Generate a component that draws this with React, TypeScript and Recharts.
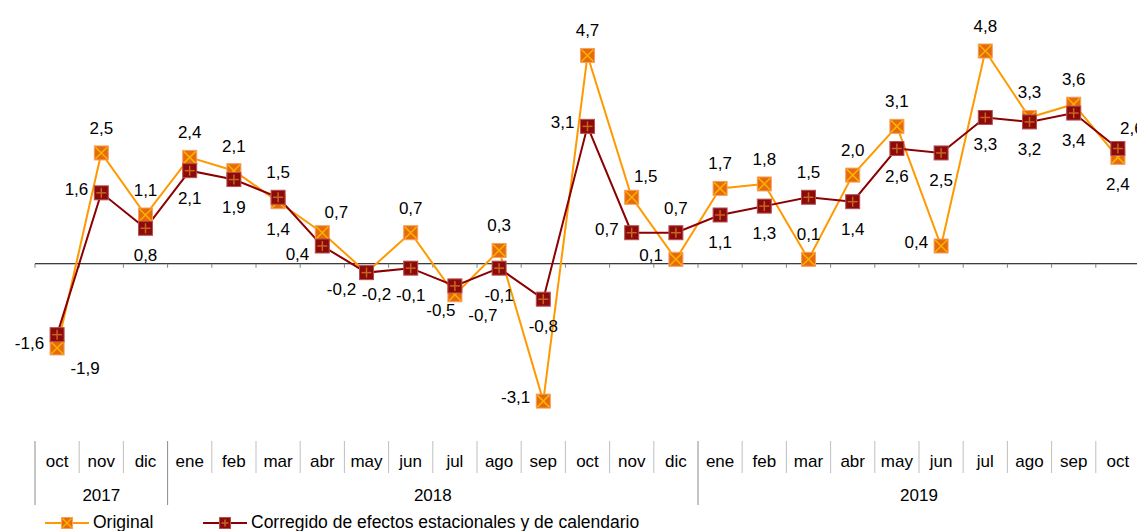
import React from 'react';
import { LineChart, Line, XAxis, YAxis, ReferenceLine, LabelList } from 'recharts';

const months = ['oct', 'nov', 'dic', 'ene', 'feb', 'mar', 'abr', 'may', 'jun', 'jul', 'ago', 'sep', 'oct', 'nov', 'dic', 'ene', 'feb', 'mar', 'abr', 'may', 'jun', 'jul', 'ago', 'sep', 'oct'];
const original = [-1.9, 2.5, 1.1, 2.4, 2.1, 1.4, 0.7, -0.2, 0.7, -0.7, 0.3, -3.1, 4.7, 1.5, 0.1, 1.7, 1.8, 0.1, 2.0, 3.1, 0.4, 4.8, 3.3, 3.6, 2.4];
const corregido = [-1.6, 1.6, 0.8, 2.1, 1.9, 1.5, 0.4, -0.2, -0.1, -0.5, -0.1, -0.8, 3.1, 0.7, 0.7, 1.1, 1.3, 1.5, 1.4, 2.6, 2.5, 3.3, 3.2, 3.4, 2.6];
const years = ['2017', '2018', '2019'];
const yearStart = [0, 3, 15];
const yearLength = [3, 12, 10];

// where each data label sits around its marker
const origPlaces = ['bottomRight', 'top', 'top', 'top', 'top', 'bottom', 'topRight', 'bottomLeft', 'top', 'bottomRight', 'top', 'left', 'top', 'topRight', 'left', 'top', 'top', 'top', 'top', 'top', 'left', 'top', 'top', 'top', 'bottom'];
const corrPlaces = ['leftLow', 'left', 'bottom', 'bottom', 'bottom', 'top', 'leftLow', 'bottomNear', 'bottom', 'bottomLeftNear', 'bottom', 'bottom', 'left', 'left', 'top', 'bottom', 'bottom', 'top', 'bottom', 'bottom', 'bottom', 'bottom', 'bottom', 'bottom', 'topRight'];

const data = months.map((m, i) => ({ i, month: m, original: original[i], corregido: corregido[i] }));

const font = '"Liberation Sans", Arial, sans-serif';
const fs = 17;
const orange = '#FF9900';
const darkRed = '#8B0000';
const W = 1145;
const H = 505;
const margin = { top: 20, right: 5, bottom: 0, left: 35 };
const band = (W - margin.left - margin.right) / months.length;

const fmt = (v: number) => v.toFixed(1).replace('.', ',');

const OrigMarker = ({ cx, cy, s = 7 }: any) => (
	<g>
		<rect x={cx - s} y={cy - s} width={s * 2} height={s * 2} fill="#E46C0A" stroke="#F7A060" strokeWidth={1} />
		<line x1={cx - s + 1} y1={cy - s + 1} x2={cx + s - 1} y2={cy + s - 1} stroke="#FFB000" strokeWidth={1.5} />
		<line x1={cx - s + 1} y1={cy + s - 1} x2={cx + s - 1} y2={cy - s + 1} stroke="#FFB000" strokeWidth={1.5} />
	</g>
);

const CorrMarker = ({ cx, cy, s = 7 }: any) => (
	<g>
		<rect x={cx - s} y={cy - s} width={s * 2} height={s * 2} fill="#8B0A0A" stroke="#B85050" strokeWidth={1} />
		<line x1={cx} y1={cy - s + 2} x2={cx} y2={cy + s - 2} stroke="#C8641E" strokeWidth={1.5} />
		<line x1={cx - s + 2} y1={cy} x2={cx + s - 2} y2={cy} stroke="#C8641E" strokeWidth={1.5} />
	</g>
);

const offsets: Record<string, [number, number, string]> = {
	top: [0, -25, 'middle'],
	bottom: [0, 27, 'middle'],
	bottomNear: [10, 21, 'middle'],
	left: [-13, -4, 'end'],
	leftLow: [-13, 8, 'end'],
	bottomLeft: [-25, 16, 'middle'],
	bottomLeftNear: [-14, 24, 'middle'],
	bottomRight: [28, 20, 'middle'],
	topRight: [14, -21, 'middle']
};

const PointLabel = ({ x, y, value, index, places }: any) => {
	const [dx, dy, anchor] = offsets[places[index]] || offsets.top;
	return (
		<text x={x + dx} y={y + dy + 6} textAnchor={anchor} fontSize={fs} fontFamily={font} fill="#000">
			{fmt(value)}
		</text>
	);
};

const MonthTick = ({ x, y, payload }: any) => {
	const i = payload.value;
	const isYearStart = yearStart.includes(i);
	return (
		<g>
			<line x1={x - band / 2} y1={y} x2={x - band / 2} y2={y + 32} stroke={isYearStart ? '#8C8C8C' : '#BFBFBF'} strokeWidth={1} />
			<text x={x} y={y + 26} textAnchor="middle" fontSize={fs} fontFamily={font} fill="#000">{months[i]}</text>
		</g>
	);
};

const YearTick = ({ x, y, payload }: any) => {
	const k = yearStart.findIndex((s, j) => s + (yearLength[j] - 1) / 2 === payload.value);
	if (k < 0) return null;
	const left = x - (yearLength[k] / 2) * band;
	return (
		<g>
			<line x1={left} y1={y} x2={left} y2={y + 32} stroke="#8C8C8C" strokeWidth={1} />
			<text x={x} y={y + 28} textAnchor="middle" fontSize={fs} fontFamily={font} fill="#000">{years[k]}</text>
		</g>
	);
};

const ZeroLine = ({ x1, x2, y1 }: any) => {
	const step = (x2 - x1) / months.length;
	return (
		<g>
			<line x1={x1} y1={y1} x2={x2} y2={y1} stroke="#000" strokeWidth={1} />
			{months.map((_, k) => (
				<line key={k} x1={x1 + k * step} y1={y1} x2={x1 + k * step} y2={y1 + 4} stroke="#808080" strokeWidth={1} />
			))}
		</g>
	);
};

const LegendItem = ({ color, marker, text, left }: any) => (
	<div style={{ position: 'absolute', left, top: 0, display: 'flex', alignItems: 'center', whiteSpace: 'nowrap' }}>
		<svg width={44} height={14}>
			<line x1={0} y1={7} x2={44} y2={7} stroke={color} strokeWidth={2} />
			{marker === 'x' ? <OrigMarker cx={22} cy={7} s={5.5} /> : <CorrMarker cx={22} cy={7} s={5.5} />}
		</svg>
		<span style={{ marginLeft: 4 }}>{text}</span>
	</div>
);

export default function App() {
	const monthTicks = months.map((_, i) => i);
	const yearTicks = yearStart.map((s, j) => s + (yearLength[j] - 1) / 2);
	return (
		<div style={{ position: 'absolute', left: 0, top: 0, width: 1137, height: 531, overflow: 'hidden', background: '#fff' }}>
			<LineChart width={W} height={H} data={data} margin={margin}>
				<XAxis xAxisId="m" type="number" dataKey="i" domain={[-0.5, 24.5]} ticks={monthTicks} interval={0}
					axisLine={false} tickLine={false} tickSize={0} tickMargin={0} height={32} tick={<MonthTick />} />
				<XAxis xAxisId="y" type="number" dataKey="i" domain={[-0.5, 24.5]} ticks={yearTicks} interval={0}
					axisLine={false} tickLine={false} tickSize={0} tickMargin={0} height={32} tick={<YearTick />} />
				<YAxis hide domain={[-4, 5.5]} />
				<ReferenceLine xAxisId="m" y={0} shape={<ZeroLine />} />
				<Line xAxisId="m" type="linear" dataKey="original" stroke={orange} strokeWidth={2} isAnimationActive={false}
					dot={(p: any) => <OrigMarker key={`o-${p.index}`} cx={p.cx} cy={p.cy} />} activeDot={false}>
					<LabelList dataKey="original" content={(p: any) => <PointLabel {...p} places={origPlaces} />} />
				</Line>
				<Line xAxisId="m" type="linear" dataKey="corregido" stroke={darkRed} strokeWidth={2} isAnimationActive={false}
					dot={(p: any) => <CorrMarker key={`c-${p.index}`} cx={p.cx} cy={p.cy} />} activeDot={false}>
					<LabelList dataKey="corregido" content={(p: any) => <PointLabel {...p} places={corrPlaces} />} />
				</Line>
			</LineChart>
			<div style={{ position: 'absolute', left: 0, top: 512, width: 1137, height: 20, fontFamily: font, fontSize: 17.5, color: '#000' }}>
				<LegendItem color={orange} marker="x" text="Original" left={45} />
				<LegendItem color={darkRed} marker="+" text="Corregido de efectos estacionales y de calendario" left={203} />
			</div>
		</div>
	);
}
